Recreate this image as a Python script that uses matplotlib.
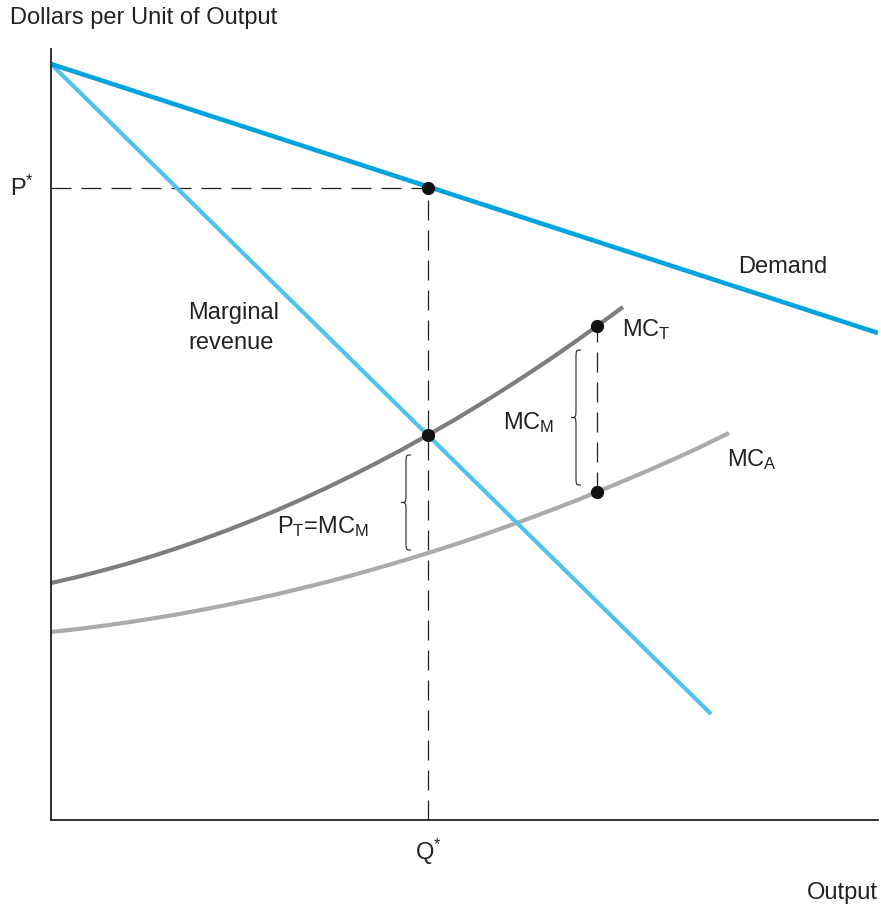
import matplotlib
matplotlib.use("Agg")
import matplotlib.pyplot as plt
from matplotlib.path import Path
from matplotlib.patches import PathPatch

plt.rcParams['font.family'] = ['Liberation Sans', 'DejaVu Sans']
plt.rcParams['mathtext.fontset'] = 'custom'
plt.rcParams['mathtext.rm'] = 'Liberation Sans'
plt.rcParams['mathtext.it'] = 'Liberation Sans'

# curves (x = output, y = dollars, arbitrary units)
demand_x = [0, 827]
demand_y = [756, 487]

mr_x = [0, 660]
mr_y = [756, 106]

mct_x = [0, 25, 50, 75, 100, 125, 150, 175, 200, 225, 250, 275, 300, 325,
         350, 377, 400, 425, 450, 475, 500, 525, 546, 572]
mct_y = [237, 242.7, 249.1, 255.9, 263.4, 271.5, 280.1, 289.3, 299.1, 309.4,
         320.4, 331.9, 344.0, 356.7, 369.9, 385, 398.1, 413.1, 428.7, 444.8,
         461.5, 478.8, 494, 513]

mca_x = [0, 25, 50, 75, 100, 125, 150, 175, 200, 225, 250, 275, 300, 325,
         350, 377, 400, 425, 450, 475, 500, 525, 546, 575, 600, 625, 650, 678]
mca_y = [188, 190.8, 193.9, 197.4, 201.3, 205.4, 210, 214.9, 220.1, 225.6,
         231.6, 237.8, 244.4, 251.4, 258.7, 267, 274.3, 282.6, 291.4, 300.4,
         309.8, 319.4, 328, 340, 350.7, 361.8, 373.3, 387]

q_star = 377
p_star = 632
mr_at_q = 385
q_t = 546
mct_at_qt = 494
mca_at_qt = 328

demand_col = '#00a3de'
mr_col = '#4fc3ee'
mct_col = '#7d7d80'
mca_col = '#ababad'

fig = plt.figure(figsize=(8.81, 9.05), dpi=100)
ax = fig.add_axes([51 / 881, 85 / 905, 827 / 881, 771 / 905])
ax.set_xlim(0, 827)
ax.set_ylim(0, 771)
for s in ['top', 'right']:
    ax.spines[s].set_visible(False)
for s in ['left', 'bottom']:
    ax.spines[s].set_linewidth(1.3)
    ax.spines[s].set_color('#222222')
ax.set_xticks([])
ax.set_yticks([])

# dashed guides
dash = dict(color='#222222', lw=0.9, dashes=(16, 8))
ax.plot([0, q_star], [p_star, p_star], **dash)
ax.plot([q_star, q_star], [0, p_star], **dash)
ax.plot([q_t, q_t], [mca_at_qt, mct_at_qt], **dash)

ax.plot(mca_x, mca_y, color=mca_col, lw=3, solid_capstyle='butt')
ax.plot(mct_x, mct_y, color=mct_col, lw=3, solid_capstyle='butt')
ax.plot(mr_x, mr_y, color=mr_col, lw=3, solid_capstyle='butt')
ax.plot(demand_x, demand_y, color=demand_col, lw=3.3, solid_capstyle='butt')

# equilibrium points
ax.plot([q_star, q_star, q_t, q_t], [p_star, mr_at_q, mct_at_qt, mca_at_qt],
        'o', color='#111111', ms=8.5, zorder=5)


def brace(xm, y0, y1, w=5, d=9):
    ym = (y0 + y1) / 2
    verts = [(xm + w, y1), (xm, y1), (xm, y1), (xm, y1 - d),
             (xm, ym + d),
             (xm, ym), (xm, ym), (xm - w, ym),
             (xm, ym), (xm, ym), (xm, ym - d),
             (xm, y0 + d),
             (xm, y0), (xm, y0), (xm + w, y0)]
    codes = [Path.MOVETO, Path.CURVE4, Path.CURVE4, Path.CURVE4,
             Path.LINETO,
             Path.CURVE4, Path.CURVE4, Path.CURVE4,
             Path.CURVE4, Path.CURVE4, Path.CURVE4,
             Path.LINETO,
             Path.CURVE4, Path.CURVE4, Path.CURVE4]
    ax.add_patch(PathPatch(Path(verts, codes), fc='none', ec='#222222', lw=0.8))


brace(355, 270, 365)
brace(525, 335, 470)

fs = 17
tc = '#222222'
ax.text(687, 553, 'Demand', fontsize=fs, color=tc, va='center')
ax.text(137, 492, 'Marginal\nrevenue', fontsize=fs, color=tc, va='center',
        linespacing=1.42)
ax.text(571, 490, r'MC$_\mathregular{T}$', fontsize=fs, color=tc, va='center')
ax.text(452, 397, r'MC$_\mathregular{M}$', fontsize=fs, color=tc, va='center')
ax.text(676, 360, r'MC$_\mathregular{A}$', fontsize=fs, color=tc, va='center')
ax.text(226, 293, r'P$_\mathregular{T}$=MC$_\mathregular{M}$', fontsize=fs,
        color=tc, va='center')
ax.text(-41, p_star, r'P$^\mathregular{*}$', fontsize=fs, color=tc,
        va='center', clip_on=False)
ax.text(q_star, -32, r'Q$^\mathregular{*}$', fontsize=fs, color=tc,
        va='center', ha='center', clip_on=False)
ax.text(827, -73, 'Output', fontsize=fs, color=tc, va='center', ha='right',
        clip_on=False)
ax.text(-41, 802, 'Dollars per Unit of Output', fontsize=fs, color=tc,
        va='center', clip_on=False)

fig.savefig('out.png', dpi=100)
